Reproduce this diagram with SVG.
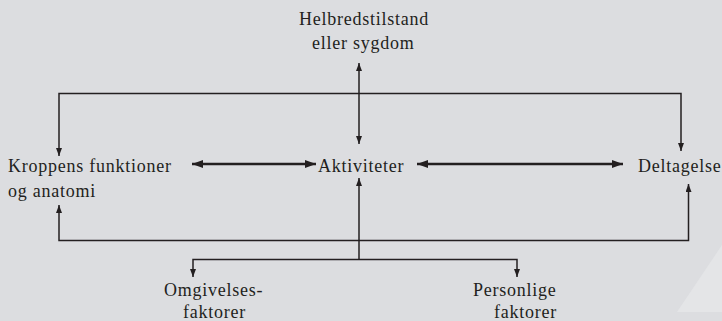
<svg xmlns="http://www.w3.org/2000/svg" width="722" height="321" viewBox="0 0 722 321">
<defs>
<style>
.bg{fill:#dcdde0}
.t{font-family:"Liberation Serif","Times New Roman",serif;font-size:18px;fill:#231f20;letter-spacing:0.75px}
.c{fill:none;stroke:#231f20;stroke-width:1.5}
.k{fill:none;stroke:#231f20;stroke-width:2.6}
</style>
<marker id="a" viewBox="0 0 8 6" refX="8" refY="3" markerWidth="8" markerHeight="6" markerUnits="userSpaceOnUse" orient="auto-start-reverse">
<path d="M0,0 L8,3 L0,6 Z" fill="#231f20"/>
</marker>
<marker id="b" viewBox="0 0 11 8" refX="11" refY="4" markerWidth="11" markerHeight="8" markerUnits="userSpaceOnUse" orient="auto-start-reverse">
<path d="M0,0 L11,4 L0,8 Z" fill="#231f20"/>
</marker>
</defs>
<rect class="bg" x="0" y="0" width="722" height="321"/>
<polygon points="722,245 677,312 722,312" fill="#e4e5e7"/>
<g id="connectors">
<path class="c" d="M359,63 V144" marker-start="url(#a)" marker-end="url(#a)"/>
<path class="c" d="M59,156 V93.5 H681 V151" marker-start="url(#a)" marker-end="url(#a)"/>
<path class="c" d="M59,205 V240.5 H688.5 V184" marker-start="url(#a)" marker-end="url(#a)"/>
<path class="c" d="M359,260 V178" marker-end="url(#a)"/>
<path class="c" d="M193,277 V259.5 H517 V277" marker-start="url(#a)" marker-end="url(#a)"/>
<path class="k" d="M192,164 H316" marker-start="url(#b)" marker-end="url(#b)"/>
<path class="k" d="M417,164 H623" marker-start="url(#b)" marker-end="url(#b)"/>
</g>
<g id="helbred"><text class="t" x="299" y="25">Helbredstilstand</text><text class="t" x="312" y="49">eller sygdom</text></g>
<g id="kroppens"><text class="t" x="8" y="172">Kroppens funktioner</text><text class="t" x="8" y="197">og anatomi</text></g>
<g id="aktiviteter"><text class="t" x="318" y="172">Aktiviteter</text></g>
<g id="deltagelse"><text class="t" x="638" y="172">Deltagelse</text></g>
<g id="omgivelses"><text class="t" x="164" y="296">Omgivelses-</text><text class="t" x="183" y="318">faktorer</text></g>
<g id="personlige"><text class="t" x="473" y="296">Personlige</text><text class="t" x="494" y="318">faktorer</text></g>
</svg>
